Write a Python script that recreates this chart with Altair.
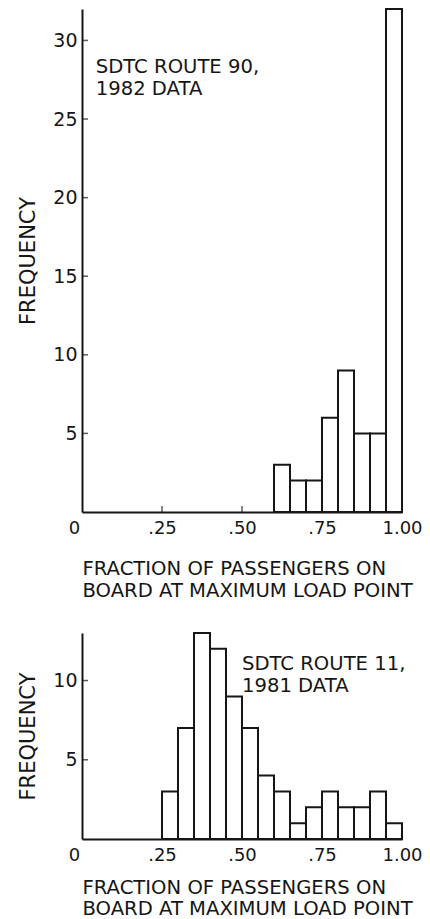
import altair as alt
import pandas as pd

# ---------------- data ----------------
top_bin_start = [0.60, 0.65, 0.70, 0.75, 0.80, 0.85, 0.90, 0.95]
top_bin_end = [0.65, 0.70, 0.75, 0.80, 0.85, 0.90, 0.95, 1.00]
top_freq = [3, 2, 2, 6, 9, 5, 5, 32]

bot_bin_start = [0.25, 0.30, 0.35, 0.40, 0.45, 0.50, 0.55, 0.60,
                 0.65, 0.70, 0.75, 0.80, 0.85, 0.90, 0.95]
bot_bin_end = [0.30, 0.35, 0.40, 0.45, 0.50, 0.55, 0.60, 0.65,
               0.70, 0.75, 0.80, 0.85, 0.90, 0.95, 1.00]
bot_freq = [3, 7, 13, 12, 9, 7, 4, 3, 1, 2, 3, 2, 2, 3, 1]

x_tick_values = [0, 0.25, 0.50, 0.75, 1.00]
x_inner_ticks = [0.25, 0.50, 0.75, 1.00]
top_y_ticks = [5, 10, 15, 20, 25, 30]
bot_y_ticks = [5, 10]

x_title = ["FRACTION OF PASSENGERS ON", "BOARD AT MAXIMUM LOAD POINT"]
y_title = "FREQUENCY"
top_note = ["SDTC ROUTE 90,", "1982 DATA"]
bot_note = ["SDTC ROUTE 11,", "1981 DATA"]

INK = "#161616"
FONT = "DejaVu Sans"


def panel(starts, ends, freqs, ymax, yticks, height, note, note_x, note_y,
          title_pad, title_lh):
    df = pd.DataFrame({"start": starts, "end": ends, "freq": freqs})
    xscale = alt.Scale(domain=[0, 1], nice=False, zero=False)
    yscale = alt.Scale(domain=[0, ymax], nice=False, zero=True)

    xaxis = alt.Axis(
        values=x_tick_values,
        labelExpr="datum.value == 0 ? '0' : datum.value == 1 ? '1.00' : "
                  "replace(format(datum.value, '.2f'), '0.', '.')",
        labelOffset={"condition": {"test": "datum.value == 0", "value": -8},
                     "value": 0},
        labelFlush=False,
        labelOverlap=False,
        ticks=False,
        grid=False,
        domainColor=INK,
        domainWidth=2,
        labelFont=FONT,
        labelFontSize=18,
        labelColor=INK,
        labelPadding=7,
        title=x_title,
        titleFont=FONT,
        titleFontSize=19.6,
        titleFontWeight="normal",
        titleColor=INK,
        titleLineHeight=title_lh,
        titleAlign="left",
        titleAnchor="start",
        titleX=0,
        titlePadding=title_pad,
    )
    yaxis = alt.Axis(
        values=yticks,
        ticks=False,
        grid=False,
        domainColor=INK,
        domainWidth=2,
        labelFont=FONT,
        labelFontSize=19,
        labelColor=INK,
        labelPadding=5,
        labelFlush=False,
        title=y_title,
        titleFont=FONT,
        titleFontSize=21,
        titleFontWeight="normal",
        titleColor=INK,
        titlePadding=14,
    )

    bars = alt.Chart(df).mark_bar(
        fill="white", stroke=INK, strokeWidth=2
    ).encode(
        x=alt.X("start:Q", scale=xscale, axis=xaxis),
        x2="end:Q",
        y=alt.Y("freq:Q", scale=yscale, axis=yaxis),
        y2=alt.datum(0),
    )

    xt = alt.Chart(pd.DataFrame({"v": x_inner_ticks})).mark_tick(
        orient="vertical", size=6, thickness=1.5, color=INK, yOffset=-3
    ).encode(x=alt.X("v:Q", scale=xscale), y=alt.datum(0, scale=yscale))

    yt = alt.Chart(pd.DataFrame({"v": yticks})).mark_tick(
        orient="horizontal", size=6, thickness=1.5, color=INK, xOffset=3
    ).encode(y=alt.Y("v:Q", scale=yscale), x=alt.datum(0, scale=xscale))

    txt = alt.Chart(pd.DataFrame({"k": [0]})).mark_text(
        text=note, align="left", baseline="alphabetic", font=FONT,
        fontSize=19.6, lineHeight=22, color=INK
    ).encode(x=alt.datum(note_x, scale=xscale), y=alt.datum(note_y, scale=yscale))

    return alt.layer(bars, xt, yt, txt).properties(width=320, height=height)


top = panel(top_bin_start, top_bin_end, top_freq, 32, top_y_ticks, 503,
            top_note, 0.043, 27.9, 22, 22)
bottom = panel(bot_bin_start, bot_bin_end, bot_freq, 13, bot_y_ticks, 206,
               bot_note, 0.5, 10.66, 14, 21)

chart = alt.vconcat(top, bottom, spacing=32).properties(
    padding={"left": 17, "top": 8, "right": 0, "bottom": 0},
    background="white",
).configure_view(stroke=None)

chart.save("out.html", embed_options={"renderer": "svg", "actions": False})
